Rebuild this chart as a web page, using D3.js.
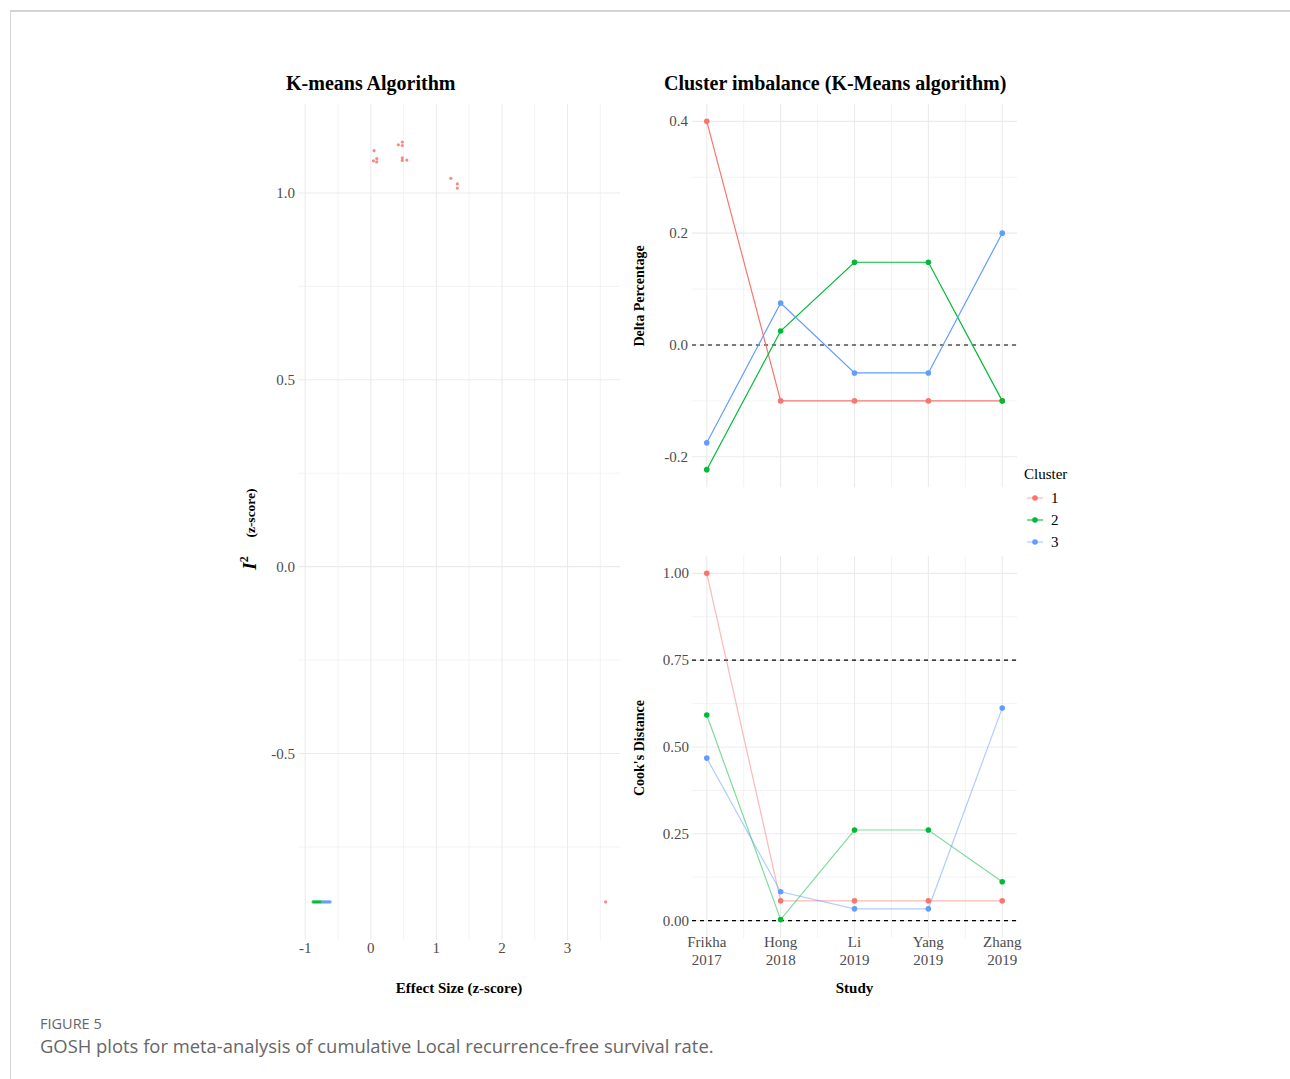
<!DOCTYPE html>
<html>
<head>
<meta charset="utf-8">
<script src="https://cdn.jsdelivr.net/npm/d3@7"></script>
<style>
  body { margin: 0; background: white; }
  svg text { font-family: "Liberation Serif", "Times New Roman", serif; }
</style>
</head>
<body>
<div id="chart"></div>
<script>

// ---- data ----
// GOSH scatter points, by k-means cluster (effect size z, I^2 z)
let cluster1X = [0.05, 0.04, 0.09, 0.09, 0.42, 0.48, 0.48, 0.48, 0.48, 0.55, 1.22, 1.32, 1.32, 3.58];
let cluster1Y = [1.113, 1.086, 1.092, 1.083, 1.129, 1.136, 1.127, 1.094, 1.087, 1.088, 1.039, 1.024, 1.013, -0.897];
let cluster2X = [-0.88, -0.86, -0.84, -0.82, -0.80, -0.78, -0.76];
let cluster2Y = [-0.897, -0.897, -0.897, -0.897, -0.897, -0.897, -0.897];
let cluster3X = [-0.74, -0.72, -0.70, -0.68, -0.66, -0.64, -0.62];
let cluster3Y = [-0.897, -0.897, -0.897, -0.897, -0.897, -0.897, -0.897];

// studies on the right-hand plots
let studies = ['Frikha\n2017', 'Hong\n2018', 'Li\n2019', 'Yang\n2019', 'Zhang\n2019'];
let clusters = ['1', '2', '3'];
let colors = ['#F8766D', '#00BA38', '#619CFF'];

// delta percentage per cluster
let delta1 = [0.4, -0.1, -0.1, -0.1, -0.1];
let delta2 = [-0.223, 0.025, 0.148, 0.148, -0.1];
let delta3 = [-0.175, 0.075, -0.05, -0.05, 0.2];

// cook's distance per cluster
let cooks1 = [1.0, 0.057, 0.057, 0.057, 0.057];
let cooks2 = [0.592, 0.003, 0.261, 0.261, 0.112];
let cooks3 = [0.468, 0.083, 0.034, 0.034, 0.612];

// tick values
let goshXTicks = [-1, 0, 1, 2, 3];
let goshYTicks = [1.0, 0.5, 0.0, -0.5];
let deltaTicks = [0.4, 0.2, 0.0, -0.2];
let cooksTicks = [1.0, 0.75, 0.5, 0.25, 0.0];

let width = 1290, height = 1079;
let gridColor = '#ebebeb';
let tickColor = '#4d4d4d';
let tickSize = 15;

// plain hyphen for negatives, like the original
let fmt1 = d => d.toFixed(1);
let fmt2 = d => d.toFixed(2);

let svg = d3.select('#chart')
  .append('svg')
    .attr('width', width)
    .attr('height', height)
    .style('background', 'white');

// figure frame (journal style)
svg.append('line').attr('x1', 10).attr('x2', width).attr('y1', 11).attr('y2', 11)
  .attr('stroke', '#d4d4d4').attr('stroke-width', 2);
svg.append('line').attr('x1', 10.5).attr('x2', 10.5).attr('y1', 11).attr('y2', height)
  .attr('stroke', '#d4d4d4').attr('stroke-width', 1);

// helper to draw the grid of a panel
function drawGrid(g, x, y, xMajor, xMinor, yMajor, yMinor) {
  let [x0, x1] = x.range();
  let [y0, y1] = y.range();
  g.append('g').selectAll('line').data(yMinor).enter().append('line')
    .attr('x1', x0).attr('x2', x1)
    .attr('y1', d => y(d)).attr('y2', d => y(d))
    .attr('stroke', gridColor).attr('stroke-width', 0.6);
  g.append('g').selectAll('line').data(xMinor).enter().append('line')
    .attr('y1', y0).attr('y2', y1)
    .attr('x1', d => x(d)).attr('x2', d => x(d))
    .attr('stroke', gridColor).attr('stroke-width', 0.6);
  g.append('g').selectAll('line').data(yMajor).enter().append('line')
    .attr('x1', x0).attr('x2', x1)
    .attr('y1', d => y(d)).attr('y2', d => y(d))
    .attr('stroke', gridColor).attr('stroke-width', 1.1);
  g.append('g').selectAll('line').data(xMajor).enter().append('line')
    .attr('y1', y0).attr('y2', y1)
    .attr('x1', d => x(d)).attr('x2', d => x(d))
    .attr('stroke', gridColor).attr('stroke-width', 1.1);
}

// ================= left: K-means GOSH plot =================
let xGosh = d3.scaleLinear().domain([-1.11, 3.80]).range([298, 620]);
let yGosh = d3.scaleLinear().domain([-0.999, 1.238]).range([940, 104]);

let leftPanel = svg.append('g');
drawGrid(leftPanel, xGosh, yGosh,
  goshXTicks, [-0.5, 0.5, 1.5, 2.5, 3.5],
  goshYTicks, [0.75, 0.25, -0.25, -0.75]);

let goshPoints = [];
[[cluster1X, cluster1Y], [cluster2X, cluster2Y], [cluster3X, cluster3Y]].forEach((c, i) => {
  c[0].forEach((v, j) => goshPoints.push({x: v, y: c[1][j], k: i}));
});

leftPanel.append('g').selectAll('circle')
  .data(goshPoints)
  .enter()
  .append('circle')
    .attr('cx', d => xGosh(d.x))
    .attr('cy', d => yGosh(d.y))
    .attr('r', 1.6)
    .attr('fill', d => colors[d.k])
    .attr('opacity', 0.85);

// axes (text only, like theme_minimal)
leftPanel.append('g').selectAll('text').data(goshXTicks).enter().append('text')
  .attr('x', d => xGosh(d)).attr('y', 953)
  .attr('text-anchor', 'middle').attr('font-size', tickSize).attr('fill', tickColor)
  .text(d => d);
leftPanel.append('g').selectAll('text').data(goshYTicks).enter().append('text')
  .attr('x', 295).attr('y', d => yGosh(d) + 5)
  .attr('text-anchor', 'end').attr('font-size', tickSize).attr('fill', tickColor)
  .text(fmt1);

leftPanel.append('text')
  .attr('x', 286).attr('y', 90)
  .attr('font-size', 20).attr('font-weight', 'bold')
  .text('K-means Algorithm');

leftPanel.append('text')
  .attr('x', xGosh(d3.mean(xGosh.domain()))).attr('y', 993)
  .attr('text-anchor', 'middle').attr('font-size', 15).attr('font-weight', 'bold')
  .text('Effect Size (z-score)');

// y label: I^2 (z-score)
let iLabel = leftPanel.append('text')
  .attr('transform', 'translate(256,563) rotate(-90)')
  .attr('text-anchor', 'middle').attr('font-weight', 'bold');
iLabel.append('tspan').attr('font-size', 19).attr('font-style', 'italic').text('I');
iLabel.append('tspan').attr('font-size', 12).attr('dy', -8).text('2');
leftPanel.append('text')
  .attr('transform', 'translate(255,513) rotate(-90)')
  .attr('text-anchor', 'middle').attr('font-weight', 'bold').attr('font-size', 13.5)
  .text('(z-score)');

// ================= right: shared x scale =================
let xStudy = d3.scaleLinear().domain([0.8, 5.2]).range([692, 1017]);
let studyIdx = studies.map((s, i) => i + 1);
let studyHalf = [1.5, 2.5, 3.5, 4.5];

function linePanel(yScale, series, lineOpacity) {
  let g = svg.append('g');
  let line = d3.line().x((d, i) => xStudy(i + 1)).y(d => yScale(d));
  series.forEach((s, k) => {
    g.append('path')
      .datum(s)
      .attr('d', line)
      .attr('fill', 'none')
      .attr('stroke', colors[k])
      .attr('stroke-opacity', lineOpacity)
      .attr('stroke-width', 1.2);
  });
  series.forEach((s, k) => {
    g.append('g').selectAll('circle')
      .data(s)
      .enter()
      .append('circle')
        .attr('cx', (d, i) => xStudy(i + 1))
        .attr('cy', d => yScale(d))
        .attr('r', 2.8)
        .attr('fill', colors[k]);
  });
  return g;
}

// ---- top right: delta percentage ----
let yDelta = d3.scaleLinear().domain([-0.254, 0.431]).range([487, 104]);
let deltaPanel = svg.append('g');
drawGrid(deltaPanel, xStudy, yDelta, studyIdx, studyHalf, deltaTicks, [0.3, 0.1, -0.1]);

deltaPanel.append('line')
  .attr('x1', xStudy.range()[0]).attr('x2', xStudy.range()[1])
  .attr('y1', yDelta(0)).attr('y2', yDelta(0))
  .attr('stroke', 'black').attr('stroke-width', 1.2).attr('stroke-dasharray', '4,4');

linePanel(yDelta, [delta1, delta2, delta3], 1);

deltaPanel.append('g').selectAll('text').data(deltaTicks).enter().append('text')
  .attr('x', 688).attr('y', d => yDelta(d) + 5)
  .attr('text-anchor', 'end').attr('font-size', tickSize).attr('fill', tickColor)
  .text(fmt1);

deltaPanel.append('text')
  .attr('x', 664).attr('y', 90)
  .attr('font-size', 20).attr('font-weight', 'bold')
  .text('Cluster imbalance (K-Means algorithm)');

deltaPanel.append('text')
  .attr('transform', 'translate(644,296) rotate(-90)')
  .attr('text-anchor', 'middle').attr('font-size', 14).attr('font-weight', 'bold')
  .text('Delta Percentage');

// ---- bottom right: cook's distance ----
let yCooks = d3.scaleLinear().domain([-0.05, 1.05]).range([938, 556]);
let cooksPanel = svg.append('g');
drawGrid(cooksPanel, xStudy, yCooks, studyIdx, studyHalf, cooksTicks, [0.875, 0.625, 0.375, 0.125]);

[0.75, 0].forEach(v => {
  cooksPanel.append('line')
    .attr('x1', xStudy.range()[0]).attr('x2', xStudy.range()[1])
    .attr('y1', yCooks(v)).attr('y2', yCooks(v))
    .attr('stroke', 'black').attr('stroke-width', 1.2).attr('stroke-dasharray', '4,4');
});

linePanel(yCooks, [cooks1, cooks2, cooks3], 0.5);

cooksPanel.append('g').selectAll('text').data(cooksTicks).enter().append('text')
  .attr('x', 689).attr('y', d => yCooks(d) + 5)
  .attr('text-anchor', 'end').attr('font-size', tickSize).attr('fill', tickColor)
  .text(fmt2);

// study labels on two lines
let studyLabels = cooksPanel.append('g').selectAll('text').data(studies).enter().append('text')
  .attr('x', (d, i) => xStudy(i + 1)).attr('y', 947)
  .attr('text-anchor', 'middle').attr('font-size', tickSize).attr('fill', tickColor);
studyLabels.each(function(d) {
  let parts = d.split('\n');
  let t = d3.select(this);
  t.append('tspan').attr('x', t.attr('x')).attr('dy', 0).text(parts[0]);
  t.append('tspan').attr('x', t.attr('x')).attr('dy', 18).text(parts[1]);
});

cooksPanel.append('text')
  .attr('x', xStudy(3)).attr('y', 993)
  .attr('text-anchor', 'middle').attr('font-size', 15).attr('font-weight', 'bold')
  .text('Study');

cooksPanel.append('text')
  .attr('transform', 'translate(644,748) rotate(-90)')
  .attr('text-anchor', 'middle').attr('font-size', 14).attr('font-weight', 'bold')
  .text("Cook's Distance");

// ---- legend ----
let legend = svg.append('g').attr('transform', 'translate(1024,0)');
legend.append('text').attr('x', 0).attr('y', 479).attr('font-size', 15).text('Cluster');
let legendItems = legend.selectAll('.item').data(clusters).enter().append('g')
  .attr('transform', (d, i) => 'translate(0,' + (498 + i * 22) + ')');
legendItems.append('line')
  .attr('x1', 3).attr('x2', 19).attr('y1', 0).attr('y2', 0)
  .attr('stroke', (d, i) => colors[i])
  .attr('stroke-opacity', (d, i) => i === 1 ? 0.9 : 0.5)
  .attr('stroke-width', 1.2);
legendItems.append('circle')
  .attr('cx', 11).attr('cy', 0).attr('r', 2.8)
  .attr('fill', (d, i) => colors[i]);
legendItems.append('text')
  .attr('x', 27).attr('y', 5).attr('font-size', 15)
  .text(d => d);

// ---- caption ----
svg.append('text')
  .attr('x', 40).attr('y', 1029)
  .style('font-family', '"Open Sans", sans-serif')
  .attr('font-size', 14.5).attr('fill', '#666')
  .text('FIGURE 5');
svg.append('text')
  .attr('x', 40).attr('y', 1053)
  .style('font-family', '"Open Sans", sans-serif')
  .attr('font-size', 18.4).attr('fill', '#666')
  .text('GOSH plots for meta-analysis of cumulative Local recurrence-free survival rate.');

</script>
</body>
</html>
